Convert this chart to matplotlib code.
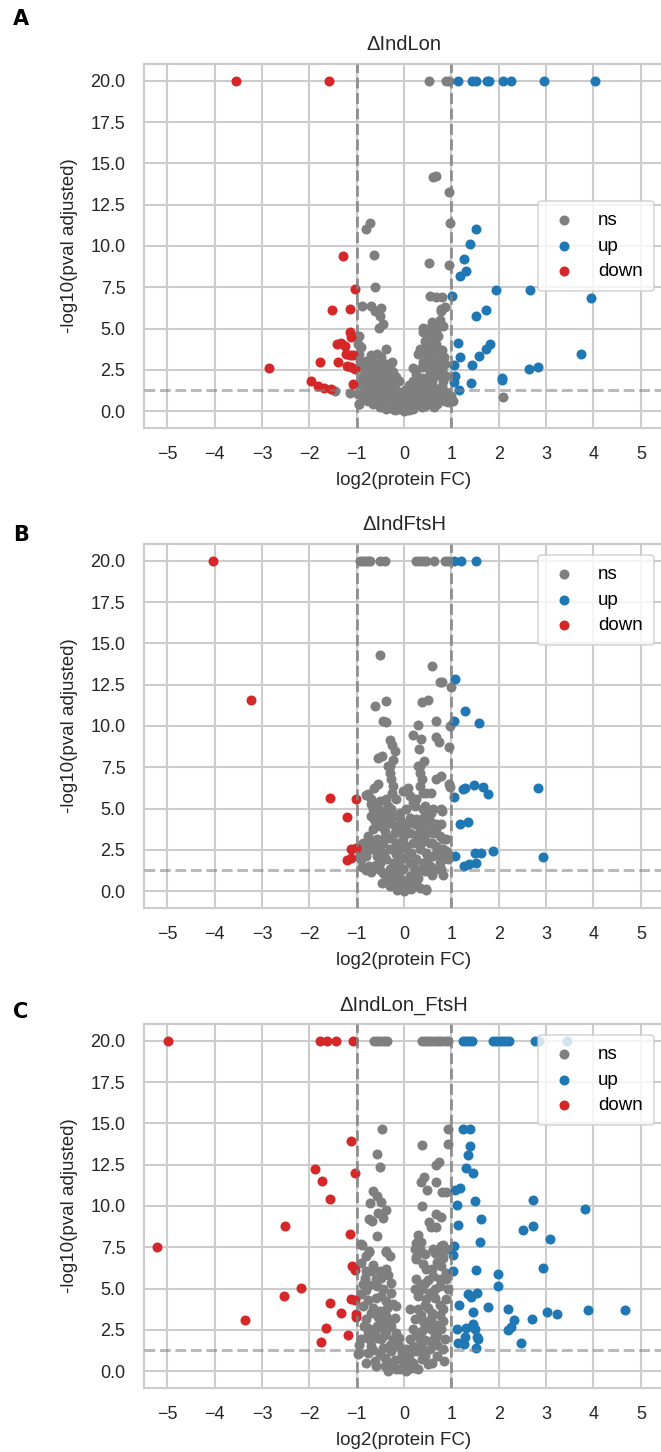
import matplotlib
matplotlib.use("Agg")
import matplotlib.pyplot as plt

# ---------------- data (log2 FC, -log10 adj p) ----------------
titles = ["ΔIndLon", "ΔIndFtsH", "ΔIndLon_FtsH"]
panel_letters = ["A", "B", "C"]
categories = ["ns", "up", "down"]

A_ns = [(0.53,20),(0.89,20),(0.95,20),
 (0.61,14.2),(0.67,14.25),(0.95,13.26),(0.98,11.37),(-0.71,11.37),(-0.80,11.05),(-0.64,9.48),
 (0.53,8.95),(0.94,8.83),(-0.61,7.53),(0.54,6.94),(0.67,6.88),(0.80,6.88),(0.79,6.18),(0.86,6.28),
 (-0.89,6.34),(-0.69,6.34),(-0.62,6.08),(-0.48,6.22),(-0.51,5.73),(-0.44,5.27),(-0.53,5.05),
 (0.40,5.01),(0.59,5.37),(0.75,5.53),(0.82,5.17),(0.68,4.87),(0.72,4.57),(0.58,4.57),(-0.99,4.57),
 (0.79,6.09),(0.65,5.28),(0.58,5.08),(0.75,5.28),(0.61,4.68),(0.53,4.88),(0.44,4.27),(0.40,4.78),
 (0.51,4.07),(0.33,3.77),(0.58,4.17),(0.68,4.07),(0.47,3.46),(0.30,3.46),(0.61,3.46),(0.75,2.96),
 (0.86,2.85),(0.89,2.15),(0.82,1.84),(0.72,2.45),(0.54,2.35),(0.37,2.65),(0.26,2.25),(0.19,1.84),
 (0.33,1.64),(0.51,1.84),(0.61,1.44),(0.75,1.23),(0.89,1.13),(0.82,0.83),(0.86,0.63),(0.72,0.63),
 (0.58,0.83),(0.40,1.03),(0.23,1.23),(0.12,0.83),(0.26,0.63),(0.47,0.53),(0.61,0.43),(0.05,0.43),
 (0.19,0.22),(0.37,0.22),(-0.09,0.22),(-0.23,0.12),(-0.37,0.12),(-0.51,0.22),(-0.65,0.43),(-0.76,0.63),
 (-0.87,0.83),(-0.94,0.43),(-0.97,1.03),(-0.94,1.64),(-0.87,2.04),(-0.80,2.45),(-0.69,2.65),(-0.58,2.85),
 (-0.48,2.96),(-0.37,2.85),(-0.30,2.65),(-0.23,2.35),(-0.16,2.04),(-0.27,1.84),(-0.37,1.64),(-0.48,1.44),
 (-0.58,1.23),(-0.73,1.23),(-0.83,1.34),(-0.69,1.84),(-0.55,2.15),(-0.44,2.35),(-0.62,1.64),(-0.41,1.03),
 (-0.30,1.23),(-0.20,1.34),(-0.09,1.03),(-0.16,0.63),(-0.37,0.63),(-0.48,0.83),(-0.62,0.83),(-0.09,0.63),
 (-0.02,0.83),(0.05,1.03),(0.15,1.13),(-0.94,2.65),(-0.92,3.06),(-0.95,3.46),(-0.90,3.87),(-0.97,4.07),
 (-0.94,4.57),(-0.39,3.77),(-0.11,1.84),(-0.87,2.15),(-0.80,3.06),(-0.69,3.16),(-0.58,3.46),(-0.48,3.26),
 (-0.51,2.65),(-0.65,2.25),(1.00,0.93),(1.04,0.63),(0.93,0.53),(-1.15,1.07),(-1.46,1.23),
 (2.09,0.83),(-0.96,0.42),(0.64,0.26),(-0.20,0.05),(0.00,0.00),(0.10,0.05),(-0.10,0.10),(0.20,0.10),
 (0.00,0.15),(-0.30,0.30),(0.30,0.35),(0.45,0.30),(-0.45,0.40),
 (-0.85,1.00),(-0.75,1.50),(-0.65,2.00),(-0.55,2.50),(-0.45,1.80),(-0.35,2.10),(-0.25,1.60),
 (-0.15,1.20),(-0.05,0.50),(-0.30,0.90),(-0.50,1.10),(-0.70,0.80),(-0.85,1.90),(-0.75,2.20),
 (-0.62,2.60),(-0.40,2.70),(-0.25,3.00),(-0.85,2.90),(-0.70,3.40),(-0.55,0.50),(-0.20,0.85),
 (0.05,0.65),(0.15,0.50),(0.30,0.90),(0.40,0.75),(0.55,0.60),(0.70,0.40),(0.50,1.20),(0.65,1.00),
 (0.80,1.50),(0.30,1.40),(0.45,1.60),(0.60,1.80),(0.70,2.20),(0.40,2.00),(0.25,1.95),(0.50,2.60),
 (0.65,2.70),(0.80,2.50),(0.55,3.10),(0.70,3.20),(0.40,3.00),(0.85,3.30),(0.80,3.70),(0.70,3.80),
 (0.60,3.90),(0.50,3.70),(0.20,2.60),(0.10,1.60),(0.02,1.30)]
A_up = [(1.14,20),(1.43,20),(1.52,20),(1.76,20),(1.80,20),(2.09,20),(2.25,20),(2.96,20),(4.03,20),
 (1.53,11.05),(1.39,10.12),(1.26,9.24),(1.30,8.47),(1.19,8.19),(1.02,6.96),(1.94,7.32),(2.65,7.32),
 (1.73,6.10),(1.51,5.77),(1.14,4.11),(1.81,4.07),(1.73,3.77),(1.58,3.36),(1.19,3.26),(1.44,2.81),
 (1.05,2.81),(1.07,2.15),(1.05,1.74),(1.41,1.70),(1.17,1.30),(2.06,2.00),(2.07,1.88),(2.64,2.55),
 (2.83,2.65),(3.94,6.86),(3.74,3.44)]
A_down = [(-3.55,20),(-1.59,20),(-1.29,9.42),(-1.04,7.38),(-1.52,6.10),(-1.13,6.20),(-1.15,4.80),
 (-1.11,4.50),(-1.42,4.07),(-1.33,4.11),(-1.25,3.97),(-1.22,3.46),(-1.15,3.42),(-1.08,3.40),
 (-1.78,3.00),(-1.39,3.00),(-1.20,2.75),(-1.11,2.65),(-1.04,2.55),(-1.96,1.80),(-1.82,1.54),
 (-1.68,1.40),(-1.54,1.34),(-1.08,1.64),(-2.85,2.62)]

B_ns = [(-0.92,20),(-0.87,20),(-0.82,20),(-0.76,20),(-0.71,20),(-0.51,20),(-0.41,20),(0.26,20),
 (0.33,20),(0.40,20),(0.47,20),(0.63,20),(0.86,20),(0.93,20),
 (-0.50,14.31),(0.59,13.65),(0.75,12.64),(0.81,12.64),(0.99,12.36),(-0.39,11.49),(-0.62,11.23),
 (0.37,11.47),(0.51,11.55),(-0.44,10.32),(-0.37,10.22),(0.30,10.08),(0.68,10.32),(0.98,9.98),
 (0.18,9.48),(0.35,9.21),(0.32,8.61),(0.68,9.33),(0.74,9.01),(0.96,8.73),(-0.30,9.17),(-0.25,8.87),
 (-0.20,8.47),(-0.55,8.06),(-0.46,8.17),(-0.23,7.96),(-0.30,7.56),(0.33,7.56),(0.42,7.86),
 (-0.55,6.46),(-0.64,6.26),(-0.80,5.80),(-0.69,5.60),(-0.34,7.58),(-0.30,7.17),(-0.27,6.77),
 (-0.23,6.36),(-0.25,5.96),(-0.37,5.56),(-0.34,5.15),(-0.30,4.75),(-0.51,5.45),(-0.58,5.15),
 (-0.65,4.95),(-0.69,4.55),(-0.62,4.24),(-0.87,2.63),(-0.90,1.92),
 (0.30,7.58),(0.33,7.17),(0.37,6.77),(0.33,6.36),(0.40,5.96),(0.68,6.77),(0.79,6.97),(0.96,6.46),
 (0.47,5.96),(0.58,5.96),(0.19,5.35),(0.40,4.95),(0.51,4.85),(0.58,4.75),(0.79,4.95),(0.79,4.04),
 (0.68,3.74),(0.82,3.13),(0.75,2.53),(0.89,2.42),(0.93,1.92),(0.79,1.31),(0.47,0.10),
 (-0.90,1.92),(-0.87,2.93),(-0.76,3.33),(-0.65,3.74),(-0.51,3.94),(-0.41,3.64),(-0.30,4.14),
 (-0.20,3.94),(-0.58,3.13),(-0.44,2.93),(-0.30,3.23),(-0.16,2.93),(-0.69,2.53),(-0.80,2.12),
 (-0.58,2.12),(-0.44,2.32),(-0.30,2.53),(-0.16,2.22),(-0.73,1.52),(-0.51,1.72),(-0.37,1.92),
 (-0.23,1.72),(-0.09,1.92),(-0.44,1.11),(-0.30,1.31),(-0.16,1.11),(-0.02,1.31),(-0.37,0.71),
 (-0.20,0.51),(-0.06,0.20),(0.05,0.40),(-0.09,0.81),(0.12,0.91),(0.19,0.51),(0.30,0.81),(0.33,0.20),
 (0.23,1.31),(0.12,1.72),(0.26,1.92),(0.40,1.72),(0.54,1.52),(0.68,1.31),(0.75,1.72),(0.61,2.12),
 (0.47,2.32),(0.33,2.53),(0.15,2.32),(0.05,2.73),(0.19,2.93),(0.37,3.13),(0.54,2.93),(0.68,2.73),
 (0.82,2.53),(0.89,3.13),(0.75,3.33),(0.61,3.54),(0.47,3.64),(0.33,3.74),(0.23,4.04),(0.12,3.54),
 (0.05,3.94),(-0.09,3.74),(-0.02,3.13),(-0.09,2.53),(0.68,4.04),(0.54,4.24),(0.40,4.44),(0.26,4.34),
 (0.12,4.44),(-0.09,4.34),(-0.23,4.55),(-0.37,4.44),(-0.51,4.44),(-0.64,4.34),(-0.58,4.75),
 (-0.44,4.85),(-0.27,4.95),(-0.09,4.75),(0.05,4.95),(0.23,5.15),(0.44,5.15),(0.61,4.95),(0.26,5.56),
 (0.12,5.76),(-0.16,5.56),(-0.02,6.06),(0.08,6.26),(-0.69,5.25),(-0.76,5.86),
 (-0.92,2.17),(-0.89,1.48),(-0.70,1.18),(-0.47,0.49),(0.46,0.04),(0.82,0.99),(0.80,4.83),(0.98,6.31),
 (0.91,2.37),(0.00,0.00),(-0.15,0.05),(0.15,0.10),(-0.30,0.30),(0.25,0.45),
 (-0.80,2.60),(-0.70,3.00),(-0.60,2.70),(-0.50,2.50),(-0.40,2.00),(-0.20,2.60),(-0.10,1.50),
 (0.00,2.00),(0.10,2.30),(0.20,1.60),(0.30,1.20),(0.45,1.20),(0.60,1.00),(0.50,2.00),(0.70,2.40),
 (0.35,2.90),(0.25,3.40),(0.45,3.40),(0.60,2.90),(0.80,2.00),(-0.60,1.60),(-0.80,1.30),(-0.50,1.30),
 (-0.25,0.90),(0.00,0.60),(0.10,0.30),(0.25,0.90),(-0.10,0.30),(-0.40,3.30),(-0.20,3.50),
 (0.00,3.40),(0.10,4.20),(-0.10,4.00),(-0.45,4.10),(0.35,4.00),(0.55,3.90)]
B_up = [(1.05,20),(1.21,20),(1.51,20),(1.07,12.86),(1.28,10.89),(1.06,10.28),(1.58,10.18),(1.06,5.72),
 (1.25,6.20),(1.28,6.24),(1.47,6.40),(1.67,6.32),(1.77,5.88),(2.83,6.25),(1.19,4.04),(1.35,4.20),
 (1.08,2.12),(1.49,2.28),(1.63,2.32),(1.87,2.42),(1.27,1.54),(1.37,1.64),(1.53,1.68),(2.94,2.07)]
B_down = [(-4.04,20),(-3.22,11.60),(-1.57,5.66),(-1.01,5.60),(-1.20,4.51),(-1.11,2.57),(-1.02,2.63),
 (-1.20,1.88),(-1.11,2.00)]

C_ns = [(-0.64,20),(-0.57,20),(-0.50,20),(-0.43,20),(-0.36,20),(0.37,20),(0.44,20),(0.51,20),(0.58,20),
 (0.65,20),(0.72,20),(0.79,20),(0.86,20),(0.93,20),
 (-0.46,14.63),(0.92,14.63),(0.39,13.70),(0.92,13.74),(-0.58,13.17),(0.68,12.48),(0.74,12.69),
 (-0.50,12.38),(0.35,11.47),(0.42,11.74),(0.68,11.45),(0.49,10.99),(0.81,10.87),(0.88,10.83),
 (-0.65,10.89),(-0.58,10.63),(-0.71,10.18),(-0.48,10.22),(-0.37,9.78),(-0.55,9.58),(-0.73,9.21),
 (-0.67,9.11),(-0.44,9.27),(0.39,10.02),(0.68,9.51),(0.79,9.31),(0.53,9.04),(0.58,8.71),(0.68,8.75),
 (-0.57,8.16),(0.30,8.24),(0.35,7.84),(0.82,7.64),(-0.88,7.64),(-0.73,7.29),(-0.39,7.25),
 (0.23,7.39),(0.30,7.19),(0.61,7.39),(0.82,7.19),(0.26,6.89),
 (-0.90,7.68),(-0.73,7.21),(-0.39,7.21),(-0.90,6.57),(-0.80,6.06),(-0.69,6.06),(-0.51,6.06),
 (-0.39,6.16),(-0.48,5.66),(-0.34,5.80),(-0.28,5.35),(-0.83,5.66),(-0.87,5.25),(-0.73,5.21),
 (-0.58,5.15),(-0.44,4.95),(-0.27,4.75),(-0.48,4.55),(-0.37,4.24),(-0.23,4.04),(-0.16,3.94),
 (-0.90,4.65),(-0.87,3.94),(-0.65,3.84),(-0.51,3.64),(-0.37,3.33),(-0.20,3.23),(-0.80,3.13),
 (-0.48,3.03),(-0.58,2.73),(-0.27,2.73),(-0.37,2.42),(-0.16,2.32),(-0.90,1.92),(-0.73,1.92),
 (-0.48,1.92),(-0.23,1.92),(-0.97,1.01),(-0.76,1.11),(-0.51,1.01),(-0.27,1.21),(-0.62,0.61),
 (-0.41,0.30),(-0.16,0.10),(-0.34,0.00),
 (0.26,7.78),(0.33,7.37),(0.44,7.07),(0.65,7.17),(0.82,6.87),(0.79,7.58),(0.47,6.16),(0.61,5.76),
 (0.26,5.56),(0.89,5.96),(0.89,5.56),(0.23,4.95),(0.37,4.95),(0.75,5.15),(0.93,4.95),(0.30,4.55),
 (0.47,4.34),(0.65,4.44),(0.89,4.34),(0.12,3.74),(0.30,3.74),(0.51,3.84),(0.82,3.74),(0.23,3.13),
 (0.40,3.03),(0.58,3.13),(0.82,3.03),(0.19,2.53),(0.37,2.42),(0.58,2.53),(0.79,2.53),(0.12,1.92),
 (0.33,1.92),(0.58,1.82),(0.86,1.92),(0.05,1.31),(0.26,1.21),(0.54,1.31),(0.82,1.31),(-0.09,0.71),
 (0.12,0.61),(0.37,0.71),(-0.09,0.10),(0.05,0.00),(0.23,0.20),(0.30,0.10),
 (-0.80,6.97),(-0.30,6.97),(0.89,7.37),(0.26,6.77),(0.79,6.36),(0.44,5.35),(0.65,4.95),
 (-0.60,0.30),(-0.30,0.50),(0.00,0.40),(0.20,0.50),(0.50,0.40),(0.45,0.90),(-0.45,1.40),(-0.10,1.50),
 (0.10,1.00),(0.35,1.50),(0.70,0.90),(-0.70,1.50),(-0.95,1.60),(-0.05,0.80),(-0.96,1.07),
 (-0.62,2.30),(-0.75,2.60),(0.70,2.10),(0.45,2.70),(-0.30,1.60),(0.15,0.20),
 (-0.60,4.40),(-0.75,4.30),(-0.70,3.50),(-0.55,3.30),(-0.60,2.00),(-0.40,2.20),(-0.30,3.00),
 (-0.45,2.60),(-0.75,2.30),(-0.85,2.70),(-0.65,1.30),(-0.40,0.80),(-0.20,0.70),(-0.20,1.50),
 (-0.05,1.10),(-0.10,2.00),(0.20,1.50),(0.40,1.10),(0.45,1.90),(0.70,1.60),(0.65,2.20),(0.25,2.20),
 (0.50,2.90),(0.70,2.80),(0.35,3.40),(0.60,3.50),(0.75,3.40),(0.45,4.00),(0.75,4.00),(0.55,4.70),
 (0.35,5.20),(0.50,5.50),(0.75,5.60),(0.60,6.20),(0.40,6.50),(0.70,6.60),(-0.65,6.40),(-0.60,5.60),
 (-0.80,4.90),(-0.35,3.80),(0.15,0.30),(0.60,0.50),(-0.80,0.50),(0.85,0.60)]
C_up = [(1.25,20),(1.31,20),(1.37,20),(1.43,20),(1.88,20),(1.95,20),(2.02,20),(2.09,20),(2.16,20),
 (2.22,20),(2.76,20),(2.86,20),(3.45,20),
 (1.25,14.63),(1.39,14.63),(1.39,13.62),(1.35,13.11),(1.30,12.28),(1.46,11.98),(1.08,10.99),
 (1.19,11.07),(1.50,10.33),(2.73,10.36),(1.11,10.05),(1.62,9.22),(1.14,8.83),(2.52,8.53),(2.73,8.78),
 (1.60,7.84),(1.05,7.58),(3.83,9.80),(3.08,8.01),(1.04,7.00),(1.04,6.04),(1.51,6.15),(1.99,5.89),
 (1.99,5.14),(2.93,6.24),(1.35,4.69),(1.42,4.47),(1.55,4.72),(1.17,3.98),(1.45,3.58),(1.78,3.89),
 (2.19,3.73),(2.32,3.09),(2.25,2.69),(2.19,2.47),(2.70,3.17),(2.48,1.70),(1.12,2.57),(1.30,2.63),
 (1.46,2.83),(1.49,2.57),(1.54,2.08),(1.56,1.92),(1.53,1.39),(1.14,1.68),(1.26,1.64),(1.28,2.08),
 (3.02,3.56),(3.23,3.46),(3.88,3.72),(4.67,3.72)]
C_down = [(-4.99,20),(-1.77,20),(-1.63,20),(-1.44,20),(-1.08,20),(-1.11,13.92),(-1.87,12.24),
 (-1.03,11.98),(-1.73,11.50),(-1.56,10.45),(-1.13,8.29),(-5.22,7.50),(-2.52,8.81),(-2.17,5.01),
 (-2.54,4.53),(-3.36,3.08),(-1.57,4.14),(-1.32,3.54),(-1.64,2.63),(-1.75,1.76),(-1.18,2.16),
 (-1.09,6.36),(-1.04,6.12),(-1.11,4.34),(-1.04,4.30),(-1.01,3.43),(-1.02,3.29)]

panels = [(A_ns, A_up, A_down), (B_ns, B_up, B_down), (C_ns, C_up, C_down)]
colors = {"ns": "#7f7f7f", "up": "#1f77b4", "down": "#d62728"}
legend_locs = ["center right", "upper right", "upper right"]

fc_threshold = 1.0
p_threshold = 1.301

x_ticks = list(range(-5, 6))
y_ticks = [0.0, 2.5, 5.0, 7.5, 10.0, 12.5, 15.0, 17.5, 20.0]

# ---------------- figure ----------------
plt.rcParams["font.family"] = ["Liberation Sans", "DejaVu Sans"]
W, H = 661, 1452
fig = plt.figure(figsize=(W / 100, H / 100), dpi=100)

ax_tops = [64.3, 544.3, 1024.3]
ax_h = 363.3
ax_left = 143.5
ax_w = 521.0
letter_y = [19, 535, 1012]
text_color = "#262626"

for i, (ns, up, down) in enumerate(panels):
    top = ax_tops[i]
    ax = fig.add_axes([ax_left / W, 1 - (top + ax_h) / H, ax_w / W, ax_h / H])
    ax.set_facecolor("white")
    for name, pts in zip(categories, (ns, up, down)):
        xs = [p[0] for p in pts]
        ys = [p[1] for p in pts]
        ax.scatter(xs, ys, s=52, c=colors[name], linewidths=0, label=name, zorder=2)
    ax.axvline(-fc_threshold, color="grey", ls="--", lw=2.1, alpha=0.8, zorder=3)
    ax.axvline(fc_threshold, color="grey", ls="--", lw=2.1, alpha=0.8, zorder=3)
    ax.axhline(p_threshold, color="grey", ls="--", lw=2.1, alpha=0.55, zorder=3)
    ax.set_xlim(-5.5, 5.5)
    ax.set_ylim(-1, 21)
    ax.set_xticks(x_ticks)
    ax.set_yticks(y_ticks)
    ax.grid(True, color="#cccccc", lw=1.5, zorder=0)
    ax.set_axisbelow(True)
    for sp in ax.spines.values():
        sp.set_color("#cccccc")
        sp.set_linewidth(1.5)
    ax.tick_params(length=0, pad=13, labelsize=13, labelcolor=text_color)
    ax.set_xlabel("log2(protein FC)", fontsize=13.5, color=text_color, labelpad=7)
    ax.set_ylabel("-log10(pval adjusted)", fontsize=13.5, color=text_color, labelpad=9)
    ax.set_title(titles[i], fontsize=14.5, color=text_color, pad=10)
    leg = ax.legend(loc=legend_locs[i], fontsize=13.5, frameon=True, handlelength=1.6,
                    handletextpad=1.0, borderpad=0.6, labelspacing=0.45, borderaxespad=0.55)
    leg.get_frame().set_edgecolor("#cccccc")
    leg.get_frame().set_linewidth(1.2)
    leg.get_frame().set_alpha(0.8)
    fig.text(21 / W, 1 - letter_y[i] / H, panel_letters[i], fontsize=15, fontweight="bold",
             family="DejaVu Sans", ha="center", va="center")

fig.savefig("out.png", dpi=100)
